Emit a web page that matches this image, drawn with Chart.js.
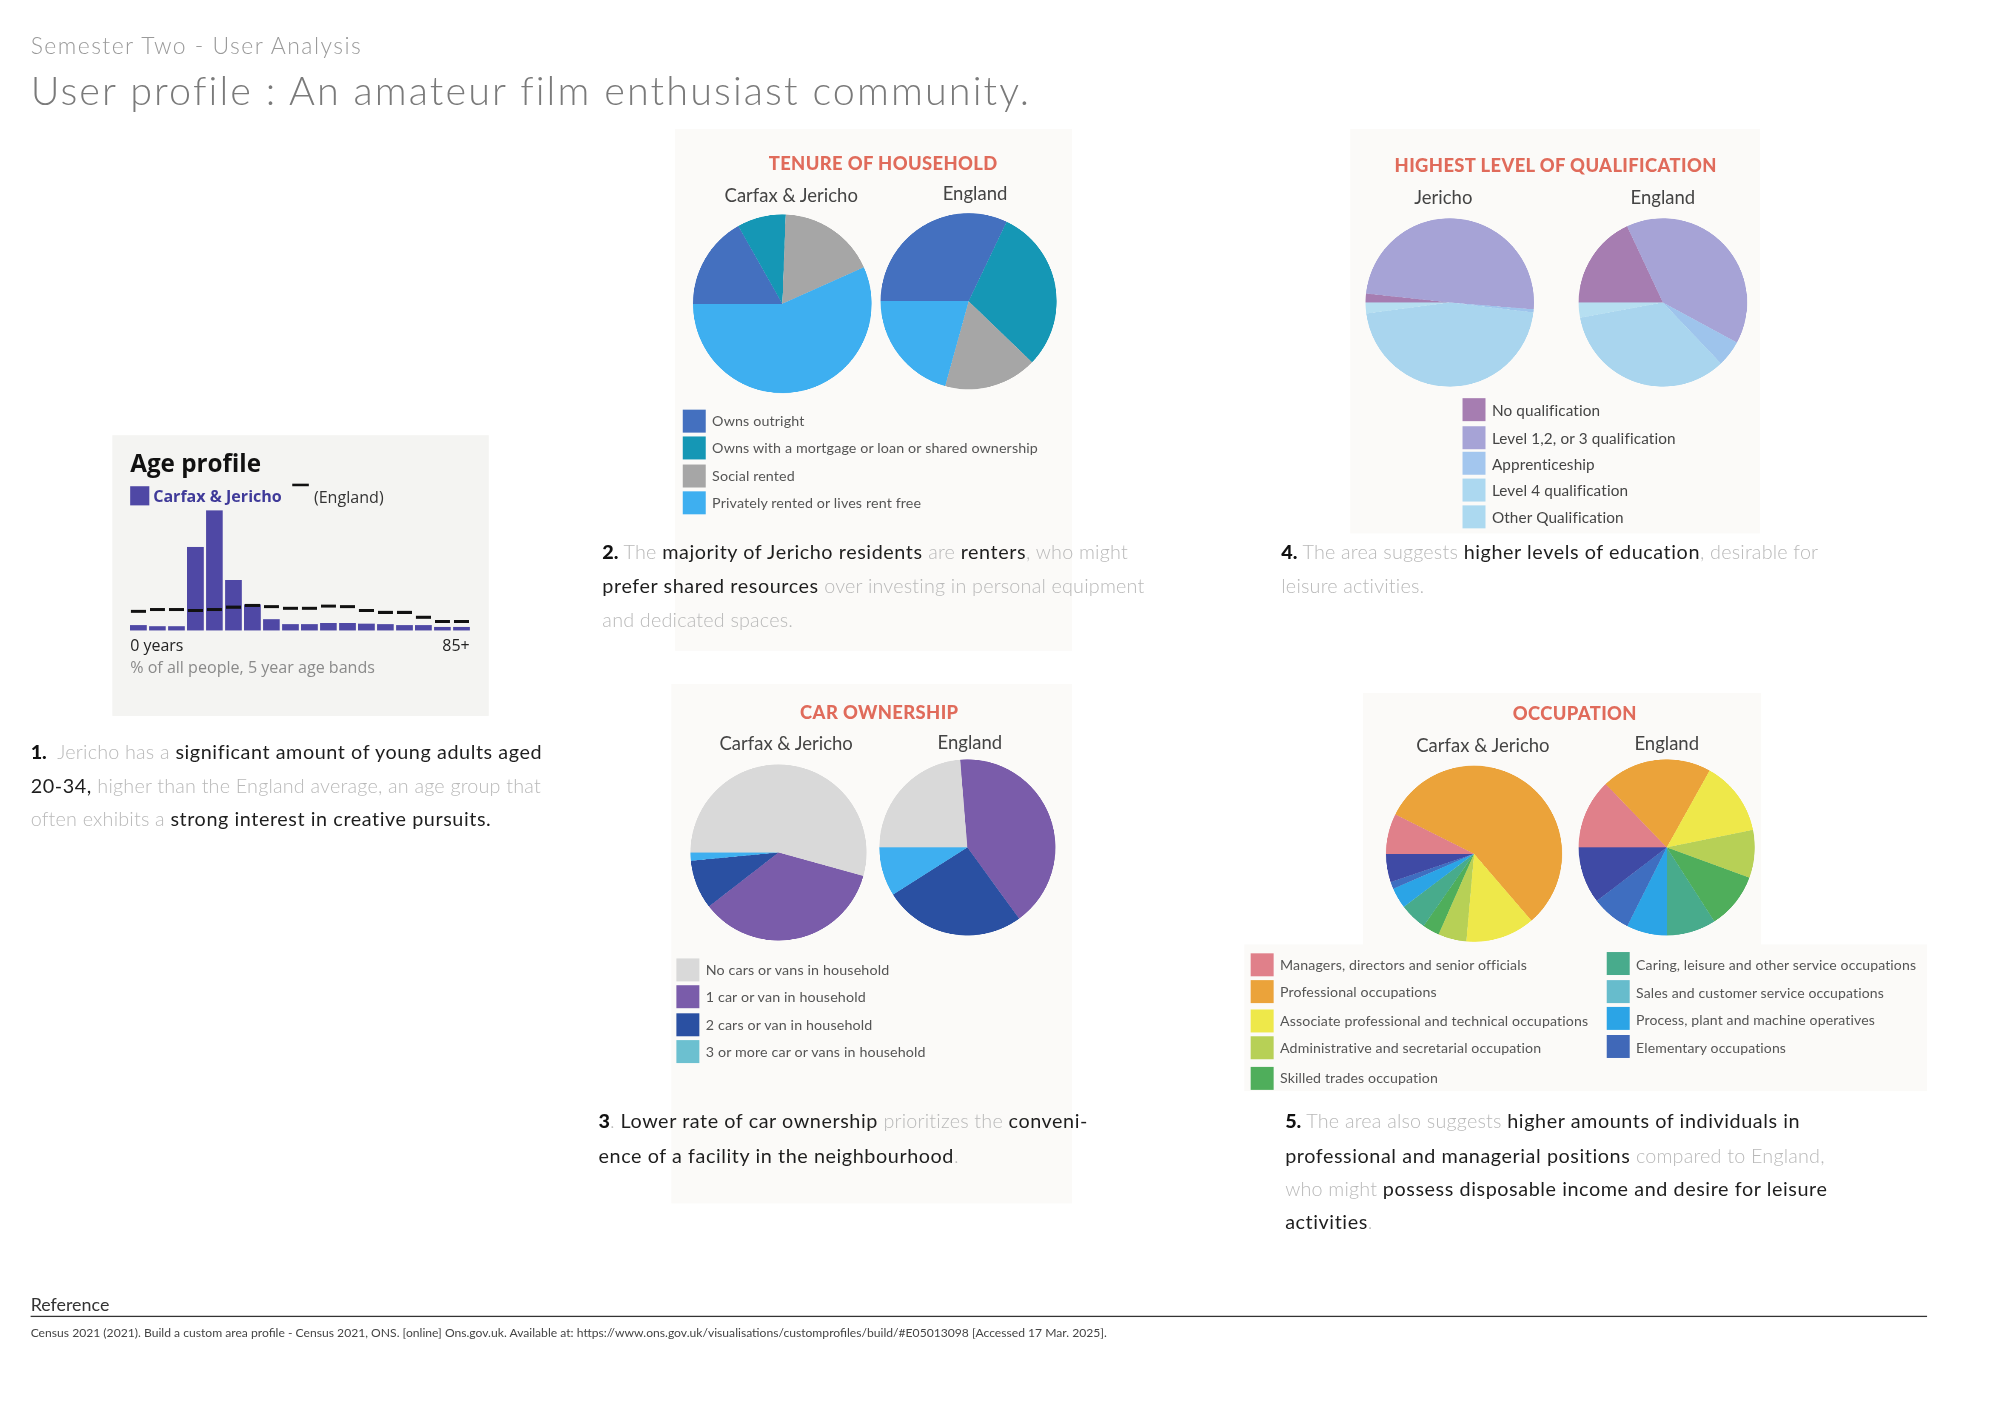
<!DOCTYPE html>
<html><head><meta charset="utf-8">
<script src="https://cdn.jsdelivr.net/npm/chart.js@4"></script>
<style>
html,body{margin:0;padding:0;background:#fff;width:2000px;height:1413px;overflow:hidden}
#page{position:absolute;left:0;top:0;width:1567px;height:1108px;transform:scale(1.2762);transform-origin:0 0;font-family:Lato,"Open Sans",sans-serif}
.panel{position:absolute}
.t{position:absolute;white-space:nowrap}
.d{color:#1e1e1e;font-weight:400;letter-spacing:0.45px}
.l{color:#b9b9b9;font-weight:300;letter-spacing:0.15px}
.b{color:#111;font-weight:900}
canvas{position:absolute}
.sq{position:absolute;width:18px;height:18px}
</style></head><body><div id="page"></div>
<script>
// ---------- DATA ----------
const ageBands = ['0-4','5-9','10-14','15-19','20-24','25-29','30-34','35-39','40-44','45-49','50-54','55-59','60-64','65-69','70-74','75-79','80-84','85+'];
const ageCarfax = [1.5,1.2,1.2,24.0,34.5,14.5,7.5,3.2,1.8,1.8,2.2,2.2,2.0,1.8,1.5,1.5,1.0,1.0];
const ageEngland = [5.5,6.0,6.0,5.8,6.0,6.7,7.2,6.8,6.4,6.4,7.0,6.8,5.8,5.2,5.2,3.8,2.6,2.6];

const tenureLabels = ['Owns outright','Owns with a mortgage or loan or shared ownership','Social rented','Privately rented or lives rent free'];
const tenureCarfax = [16.8,8.8,17.7,56.7];
const tenureEngland = [32.1,30.1,17.1,20.7];

const qualLabels = ['No qualification','Level 1,2, or 3 qualification','Apprenticeship','Level 4 qualification','Other Qualification'];
const qualJericho = [1.7,49.6,0.6,46.0,2.1];
const qualEngland = [18.0,39.9,5.0,34.2,2.9];

const carLabels = ['No cars or vans in household','1 car or van in household','2 cars or van in household','3 or more car or vans in household'];
const carCarfax = [54.3,35.2,9.0,1.5];
const carEngland = [23.7,41.3,26.0,9.0];

const occLabels = ['Managers, directors and senior officials','Professional occupations','Associate professional and technical occupations','Administrative and secretarial occupation','Skilled trades occupation','Caring, leisure and other service occupations','Sales and customer service occupations','Process, plant and machine operatives','Elementary occupations'];
const occCarfax = [7.4,56.3,12.7,5.2,3.1,5.0,3.8,1.3,5.2];
const occEngland = [12.8,20.3,13.7,8.8,10.3,9.1,7.4,7.2,10.4];

// ---------- STYLES ----------
const tenureColors = ['#4470bf','#1597b5','#a6a6a6','#3eaff0'];
const qualColors = ['#a67db1','#a6a3d6','#9ec4ec','#a9d5ee','#b6dff1'];
const qualLegendColors = ['#a67db1','#a6a3d6','#a3c6ee','#acd8f0','#acd9f0'];
const carColors = ['#d9d9d9','#7a5caa','#2a50a2','#3eaff0'];
const carLegendColors = ['#d9d9d9','#7a5caa','#2a50a2','#6cc0d0'];
const occColors = ['#e0808a','#eba33a','#eee84a','#b7d056','#4fae5b','#48ab8c','#2ba4e6','#3f6ec0','#3f4aa5'];
const occLegendColors = ['#e0808a','#eba33a','#eee84a','#b7d056','#4fae5b','#48ab8c','#67bccc','#2ba4e6','#4068b8'];

const page = document.getElementById('page');
function el(tag, cls, css, html){const e=document.createElement(tag); if(cls) e.className=cls; Object.assign(e.style, css); if(html!==undefined) e.innerHTML=html; page.appendChild(e); return e;}
function panel(x,y,w,h,bg){el('div','panel',{left:x+'px',top:y+'px',width:w+'px',height:h+'px',background:bg});}
function text(x,yc,html,size,color,weight,align,family,ls){
  const lh=Math.round(size*1.4);
  const css={top:(yc-lh/2)+'px',fontSize:size+'px',lineHeight:lh+'px',color:color||'#222',fontWeight:weight||400};
  if(family) css.fontFamily=family;
  if(ls) css.letterSpacing=ls+'px';
  if(align==='center'){css.left=(x-400)+'px';css.width='800px';css.textAlign='center';}
  else if(align==='right'){css.left=(x-400)+'px';css.width='400px';css.textAlign='right';}
  else css.left=x+'px';
  return el('div','t',css,html);
}
const D=s=>'<span class="d">'+s+'</span>', L=s=>'<span class="l">'+s+'</span>', B=s=>'<span class="b">'+s+'</span>';
function body(x,yc,html){return text(x,yc,html,15.5,'#222',400);}

function pie(cx,cy,r,labels,values,colors){
  const c=document.createElement('canvas');
  const s=2*r; c.width=s; c.height=s;
  Object.assign(c.style,{left:(cx-r)+'px',top:(cy-r)+'px',width:s+'px',height:s+'px'});
  page.appendChild(c);
  new Chart(c,{type:'pie',data:{labels:labels,datasets:[{data:values,backgroundColor:colors,borderWidth:0,hoverOffset:0,offset:0}]},
    options:{responsive:false,animation:false,events:[],devicePixelRatio:3,rotation:270,layout:{padding:0},
      plugins:{legend:{display:false},tooltip:{enabled:false}}}});
}
function legend(x,ys,labels,colors,size,color){
  labels.forEach((lab,i)=>{
    el('div','sq',{left:x+'px',top:(ys[i]-9)+'px',background:colors[i]});
    text(x+23,ys[i],lab,size,color||'#555',400,null,null,0.1);
  });
}

// ---------- HEADER ----------
text(24,35,'Semester Two - User Analysis',18,'#9a9a9a',300,null,null,1.15);
text(24,70,'User profile : An amateur film enthusiast community.',31,'#7a7a7a',300,null,null,1.65);

// ---------- PANELS ----------
panel(88,341,295,220,'#f4f4f2');
panel(529,101,311,409,'#fbfaf8');
panel(1058,101,321,317,'#fbfaf8');
panel(526,536,314,407,'#fbfaf8');
panel(1068,543,312,199,'#fbfaf8');
panel(975,740,535,115,'#fbfaf8');

// ---------- AGE PROFILE ----------
text(102,363,'Age profile',19,'#111',700,null,'"Open Sans"');
el('div','sq',{left:'102px',top:'381px',width:'15px',height:'15px',background:'#4f48a5'});
text(120,389,'Carfax &amp; Jericho',12.6,'#3f3a99',700,null,'"Open Sans"');
el('div','panel',{left:'229px',top:'379px',width:'13px',height:'2px',background:'#111'});
text(246,390,'(England)',12.6,'#333',400,null,'"Open Sans"');
(function(){
  const c=document.createElement('canvas'); c.width=268; c.height=96;
  Object.assign(c.style,{left:'101px',top:'398px',width:'268px',height:'96px'});
  page.appendChild(c);
  new Chart(c,{type:'bar',data:{labels:ageBands,datasets:[
    {type:'line',label:'England',data:ageEngland,showLine:false,pointStyle:'line',pointRadius:5.9,pointBorderWidth:2.4,pointBorderColor:'#111',borderColor:'#111',order:0},
    {type:'bar',label:'Carfax & Jericho',data:ageCarfax,backgroundColor:'#4f48a5',barPercentage:0.87,categoryPercentage:1,order:1}
  ]},options:{responsive:false,animation:false,events:[],devicePixelRatio:3,layout:{padding:0,autoPadding:false},
    scales:{x:{display:false},y:{display:false,min:0,max:35.2}},
    plugins:{legend:{display:false},tooltip:{enabled:false}}}});
})();
text(102,506,'0 years',12.5,'#222',400,null,'"Open Sans"');
text(368,506,'85+',12.5,'#222',400,'right','"Open Sans"');
text(102,523,'% of all people, 5 year age bands',12.6,'#8a8a8a',400,null,'"Open Sans"');

// ---------- TENURE ----------
text(692,128,'TENURE OF HOUSEHOLD',14.4,'#e06b5b',900,'center',null,0.3);
text(620,153,'Carfax &amp; Jericho',14.5,'#444',400,'center');
text(764,152,'England',14.5,'#444',400,'center');
pie(613,238,70,tenureLabels,tenureCarfax,tenureColors);
pie(759,236,69,tenureLabels,tenureEngland,tenureColors);
legend(535,[330,351,373,394],tenureLabels,tenureColors,11.2,'#555');

// ---------- QUALIFICATION ----------
text(1219,130,'HIGHEST LEVEL OF QUALIFICATION',14.4,'#e06b5b',900,'center',null,0.3);
text(1131,155,'Jericho',14.5,'#444',400,'center');
text(1303,155,'England',14.5,'#444',400,'center');
pie(1136,237,66,qualLabels,qualJericho,qualColors);
pie(1303,237,66,qualLabels,qualEngland,qualColors);
legend(1146,[321,343,363,384,405],qualLabels,qualLegendColors,12,'#444');

// ---------- CAR ----------
text(689,558,'CAR OWNERSHIP',14.4,'#e06b5b',900,'center',null,0.3);
text(616,583,'Carfax &amp; Jericho',14.5,'#444',400,'center');
text(760,582,'England',14.5,'#444',400,'center');
pie(610,668,69,carLabels,carCarfax,carColors);
pie(758,664,69,carLabels,carEngland,carColors);
legend(530,[760,781,803,824],carLabels,carLegendColors,11.2,'#555');

// ---------- OCCUPATION ----------
text(1234,559,'OCCUPATION',14.4,'#e06b5b',900,'center',null,0.3);
text(1162,584,'Carfax &amp; Jericho',14.5,'#444',400,'center');
text(1306,583,'England',14.5,'#444',400,'center');
pie(1155,669,69,occLabels,occCarfax,occColors);
pie(1306,664,69,occLabels,occEngland,occColors);
legend(980,[756,777,800,821,845],occLabels.slice(0,5),occLegendColors.slice(0,5),11.1,'#555');
legend(1259,[755,777,798,820],occLabels.slice(5),occLegendColors.slice(5),11,'#555');

// ---------- TEXT BLOCKS ----------
body(24,589,B('1.')+L('&nbsp; Jericho has a')+D(' significant amount of young adults aged'));
body(24,615,D('20-34,')+L(' higher than the England average, an age group that'));
body(24,641,L('often exhibits a')+D(' strong interest in creative pursuits.'));

body(472,432,B('2.')+L(' The')+D(' majority of Jericho residents')+L(' are')+D(' renters')+L(', who might'));
body(472,459,D('prefer shared resources')+L(' over investing in personal equipment'));
body(472,485,L('and dedicated spaces.'));

body(1004,432,B('4.')+L(' The area suggests')+D(' higher levels of education')+L(', desirable for'));
body(1004,459,L('leisure activities.'));

body(469,878,B('3')+L('.')+D(' Lower rate of car ownership')+L(' prioritizes the')+D(' conveni-'));
body(469,905,D('ence of a facility in the neighbourhood')+L('.'));

body(1007,878,B('5.')+L(' The area also suggests')+D(' higher amounts of individuals in'));
body(1007,905,D('professional and managerial positions')+L(' compared to England,'));
body(1007,931,L('who might')+D(' possess disposable income and desire for leisure'));
body(1007,957,D('activities')+L('.'));

// ---------- REFERENCE ----------
text(24,1022,'Reference',14,'#333',400);
el('div','panel',{left:'24px',top:'1031px',width:'1486px',height:'1px',background:'#333'});
text(24,1044,'Census 2021 (2021). Build a custom area profile - Census 2021, ONS. [online] Ons.gov.uk. Available at: https://www.ons.gov.uk/visualisations/customprofiles/build/#E05013098 [Accessed 17 Mar. 2025].',9.5,'#444',400);
</script></body></html>
